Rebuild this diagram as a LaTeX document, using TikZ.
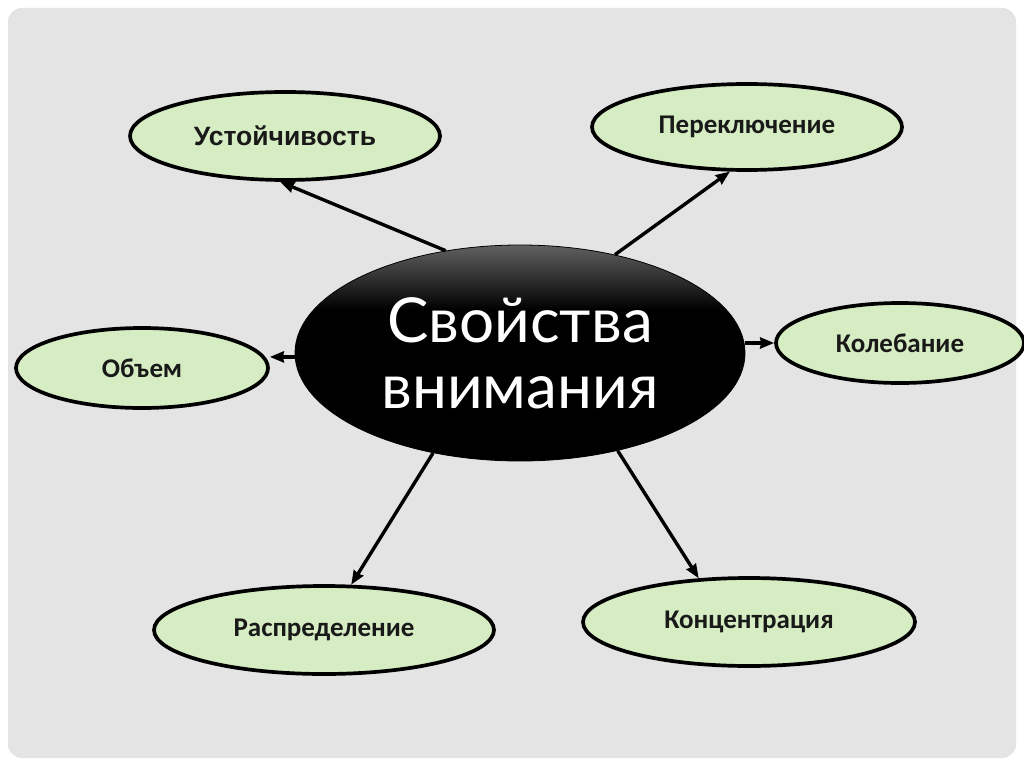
\documentclass[tikz,border=0pt]{standalone}
\usepackage{fontspec}
\setmainfont{Carlito}
\newfontfamily\centerfont{Lato}
\newfontfamily\arialfont{Liberation Sans}
\usetikzlibrary{shapes.geometric,arrows.meta}
\definecolor{bggray}{RGB}{228,228,228}
\definecolor{leaf}{RGB}{214,236,194}
\pgfdeclareverticalshading{topglow}{100bp}{color(0bp)=(black); color(25bp)=(black); color(60bp)=(black); color(75bp)=(black!62); color(100bp)=(black!62)}
\tikzset{
  leafnode/.style={ellipse, draw=black, line width=3.7pt, fill=leaf, inner sep=0pt,
    font=\fontsize{27}{30}\selectfont\bfseries, text=black!90},
  arr/.style={line width=3.4pt, -{Stealth[length=14pt,width=11pt,inset=1pt]}},
}
\begin{document}
\begin{tikzpicture}[x=1pt,y=-1pt]
\useasboundingbox (0,0) rectangle (1024,767);
\fill[white] (0,0) rectangle (1024,767);
\fill[bggray, rounded corners=14pt] (8,8) rectangle (1016,758);

\node[ellipse, minimum width=450pt, minimum height=216pt, inner sep=0pt,
  draw=black, line width=0.8pt, shading=topglow,
  text=white, align=center, font=\centerfont\fontsize{62}{66}\selectfont]
  (c) at (520,353) {Свойства\\внимания};

\node[leafnode, minimum width=310pt, minimum height=88pt, font=\arialfont\fontsize{26.5}{30}\selectfont\bfseries] (u) at (285,136) {Устойчивость};
\node[leafnode, minimum width=310pt, minimum height=86pt] (p) at (747,127) {Переключение};
\node[leafnode, minimum width=252pt, minimum height=80pt] (o) at (142,368) {Объем};
\node[leafnode, minimum width=248pt, minimum height=80pt] (k) at (900,343) {Колебание};
\node[leafnode, minimum width=340pt, minimum height=88pt] (r) at (324,630) {Распределение};
\node[leafnode, minimum width=332pt, minimum height=88pt] (n) at (749,622) {Концентрация};

\draw[arr] (c.126) -- (u.264);
\draw[arr] (c.46) -- (p.249);
\draw[arr] (c.181) -- (c.181 -| o.east);
\draw[arr] (k.west -| c.east) -- (k.west);
\draw[arr] (c.229) -- (r.59);
\draw[arr] (c.315) -- (n.139);
\end{tikzpicture}
\end{document}
